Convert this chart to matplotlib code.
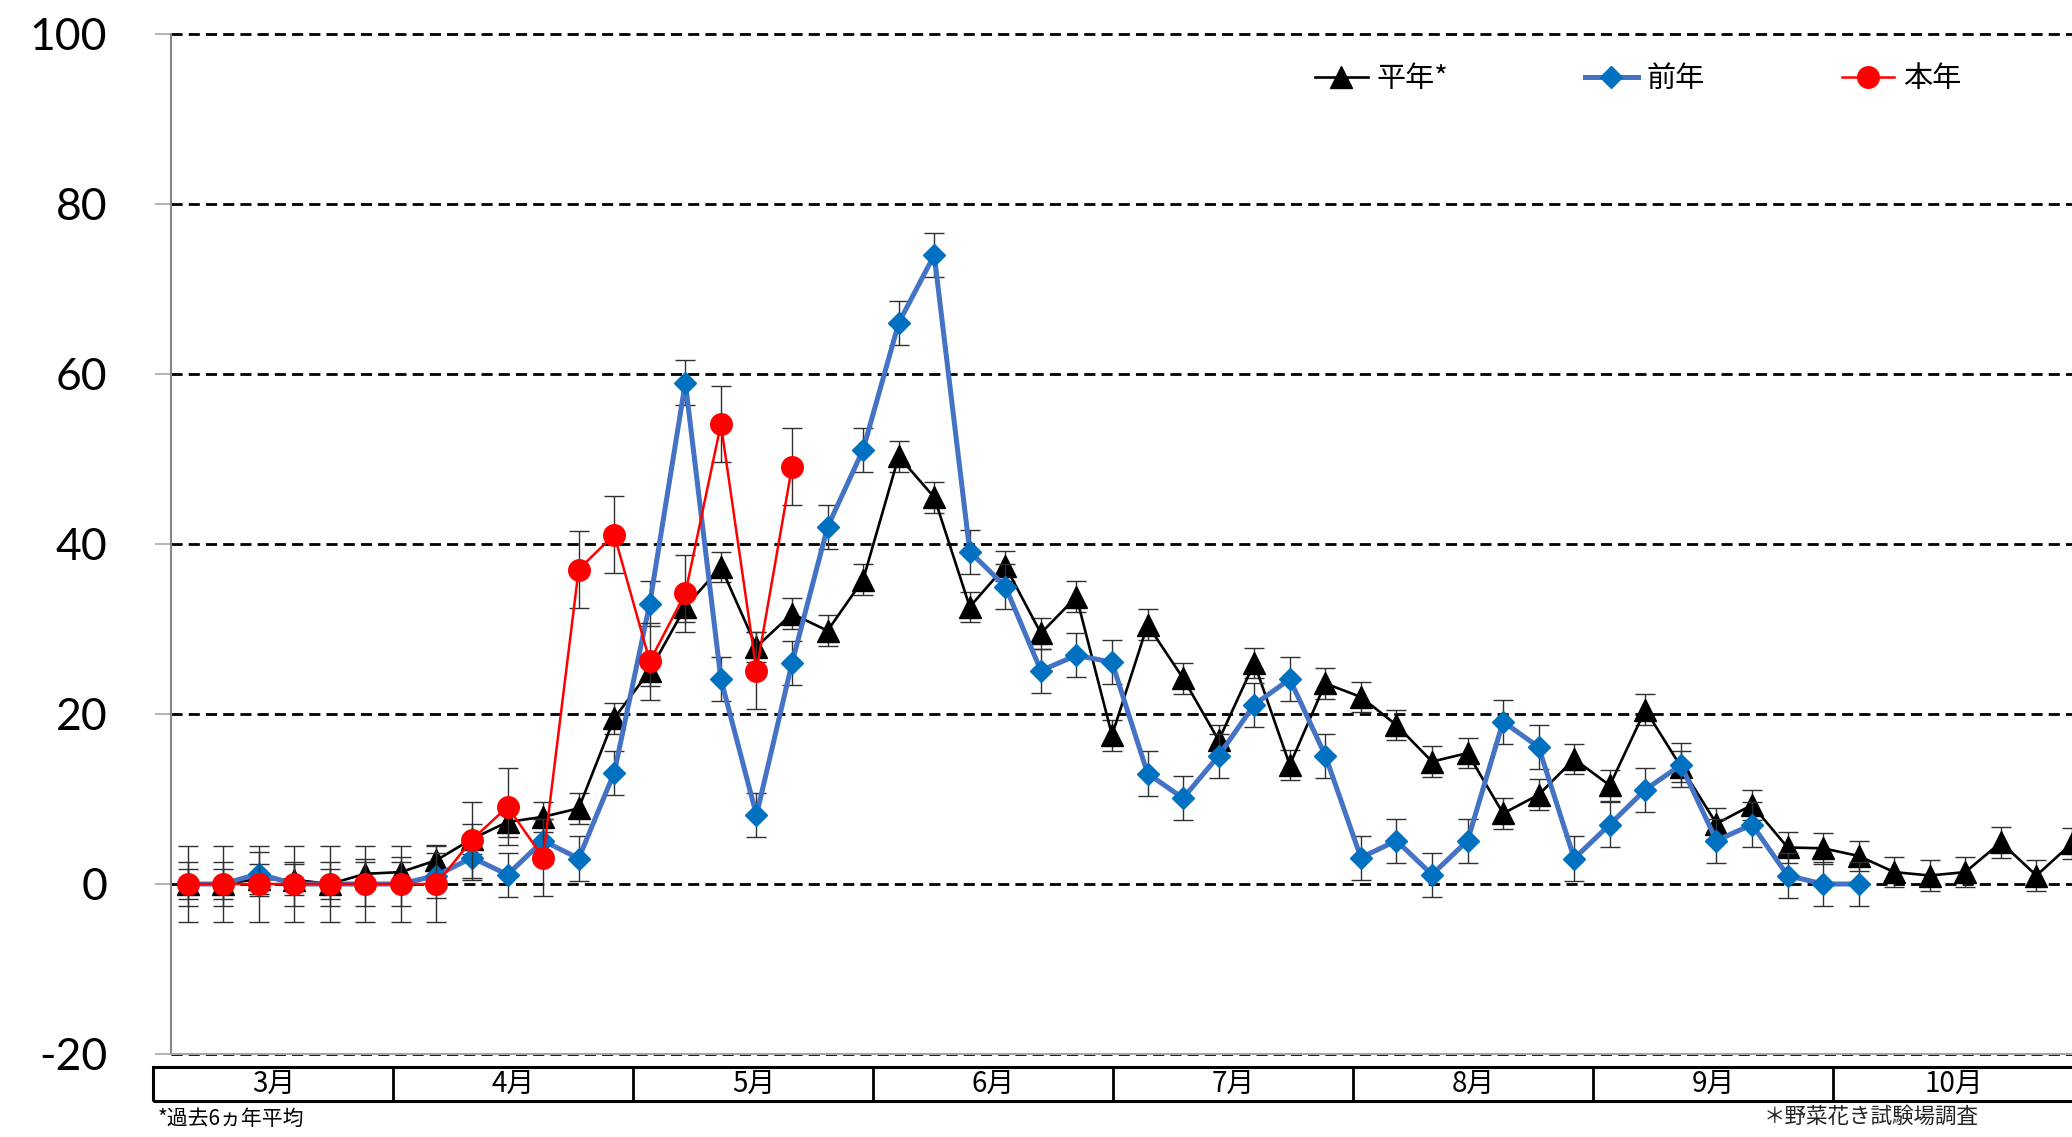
import numpy as np
import matplotlib
matplotlib.use("Agg")
import matplotlib.pyplot as plt
from matplotlib import transforms
from matplotlib.patches import Rectangle
from matplotlib.font_manager import FontProperties

plt.rcParams['font.family'] = ['Lato', 'Noto Sans CJK JP', 'DejaVu Sans']
plt.rcParams['axes.unicode_minus'] = False

# values (one point per survey period)
heinen = [0, 0, 0.6, 0.5, 0, 1.2, 1.4, 2.8, 5.3, 7.3,
          7.9, 8.9, 19.5, 25.1, 32.6, 37.3, 27.9, 31.8, 29.8, 35.8,
          50.3, 45.5, 32.6, 37.4, 29.5, 33.8, 17.5, 30.5, 24.2, 16.9,
          26.0, 14.0, 23.6, 22.0, 18.7, 14.4, 15.4, 8.3, 10.5, 14.7,
          11.6, 20.5, 13.8, 7.1, 9.3, 4.3, 4.2, 3.3, 1.4, 1.0,
          1.4, 4.9, 1.0, 4.8]
zennen = [0, 0, 1.2, 0, 0, 0, 0, 1.0, 3.1, 1.1,
          5.1, 3.0, 13.1, 33.0, 59.0, 24.1, 8.1, 26.0, 42.0, 51.1,
          66.0, 74.0, 39.1, 35.0, 25.1, 26.9, 26.1, 13.0, 10.1, 15.1,
          21.1, 24.1, 15.1, 3.1, 5.1, 1.1, 5.1, 19.1, 16.1, 3.0,
          7.0, 11.1, 14.0, 5.1, 7.0, 1.0, 0, 0]
honnen = [0, 0, 0, 0, 0, 0, 0, 0, 5.2, 9.1,
          3.1, 37.0, 41.1, 26.2, 34.2, 54.1, 25.1, 49.1]
err_heinen = 1.8
err_zennen = 2.6
err_honnen = 4.5

labels = ['平年*', '前年', '本年']
months = ['3月', '4月', '5月', '6月', '7月', '8月', '9月', '10月']
yticks = [-20, 0, 20, 40, 60, 80, 100]

W, H = 2072, 1137
fig = plt.figure(figsize=(W / 100, H / 100), dpi=100)
ax = fig.add_axes([170.5 / W, 83 / H, (W - 170.5) / W, 1020 / H])

cont = []
c = ax.errorbar(range(len(heinen)), heinen, yerr=err_heinen, color='black', marker='^',
                ms=16, lw=1.9, ecolor='#303030', elinewidth=1, capsize=7.5, capthick=1, zorder=3)
cont.append(c)
c = ax.errorbar(range(len(zennen)), zennen, yerr=err_zennen, color='#4472C4', marker='D',
                ms=11, mfc='#0070C0', mec='#0070C0', lw=3.6, ecolor='#303030',
                elinewidth=1, capsize=7.5, capthick=1, zorder=4)
cont.append(c)
c = ax.errorbar(range(len(honnen)), honnen, yerr=err_honnen, color='#FF0000', marker='o',
                ms=15.5, lw=1.8, ecolor='#303030', elinewidth=1, capsize=7.5, capthick=1, zorder=5)
cont.append(c)

ax.set_xlim(-0.48, 53.0)
ax.set_ylim(-20, 100)
ax.set_xticks([])
ax.set_yticks(yticks)
ax.tick_params(axis='y', length=11.5, width=1.2, color='#A6A6A6', pad=34, labelsize=32)
for s in ['top', 'right']:
    ax.spines[s].set_visible(False)
ax.spines['left'].set_color('#868686')
ax.spines['left'].set_linewidth(1.5)
ax.spines['bottom'].set_color('#A6A6A6')
ax.spines['bottom'].set_linewidth(1.5)

for v in yticks:
    ax.axhline(v, color='black', lw=2.0, ls=(0, (4, 2.2)), zorder=1, clip_on=False)

# month table under the plot
trans = transforms.blended_transform_factory(ax.transData, ax.transAxes)
b0 = -0.96
mw = 6.75
ytop, ybot = -0.0127, -0.046
ax.add_patch(Rectangle((b0, ybot), 70, ytop - ybot, transform=trans, fill=False,
                       ec='black', lw=2.2, clip_on=False))
for k, m in enumerate(months):
    if k > 0:
        ax.plot([b0 + k * mw] * 2, [ybot, ytop], transform=trans, color='black',
                lw=2.0, clip_on=False)
    ax.text(b0 + (k + 0.5) * mw, (ytop + ybot) / 2, m, transform=trans, ha='center',
            va='center', fontsize=20, family=['Noto Sans CJK JP'])

ax.legend([c[0] for c in cont], labels, loc='center left',
          bbox_to_anchor=(1315 / W, 1 - 79 / H), bbox_transform=fig.transFigure,
          ncol=3, frameon=False, handlelength=1.8, handletextpad=0.3, columnspacing=4.7,
          borderpad=0, borderaxespad=0, prop=FontProperties(family='Noto Sans CJK JP', size=21))

fig.text(158 / W, 1 - 1119 / H, '*過去6ヵ年平均', fontsize=15, va='center',
         family=['Noto Sans CJK JP'])
fig.text(1764 / W, 1 - 1117 / H, '＊野菜花き試験場調査', fontsize=15.5, va='center',
         family=['Noto Sans CJK JP'], color='#222222')

fig.savefig('out.png', dpi=100)
